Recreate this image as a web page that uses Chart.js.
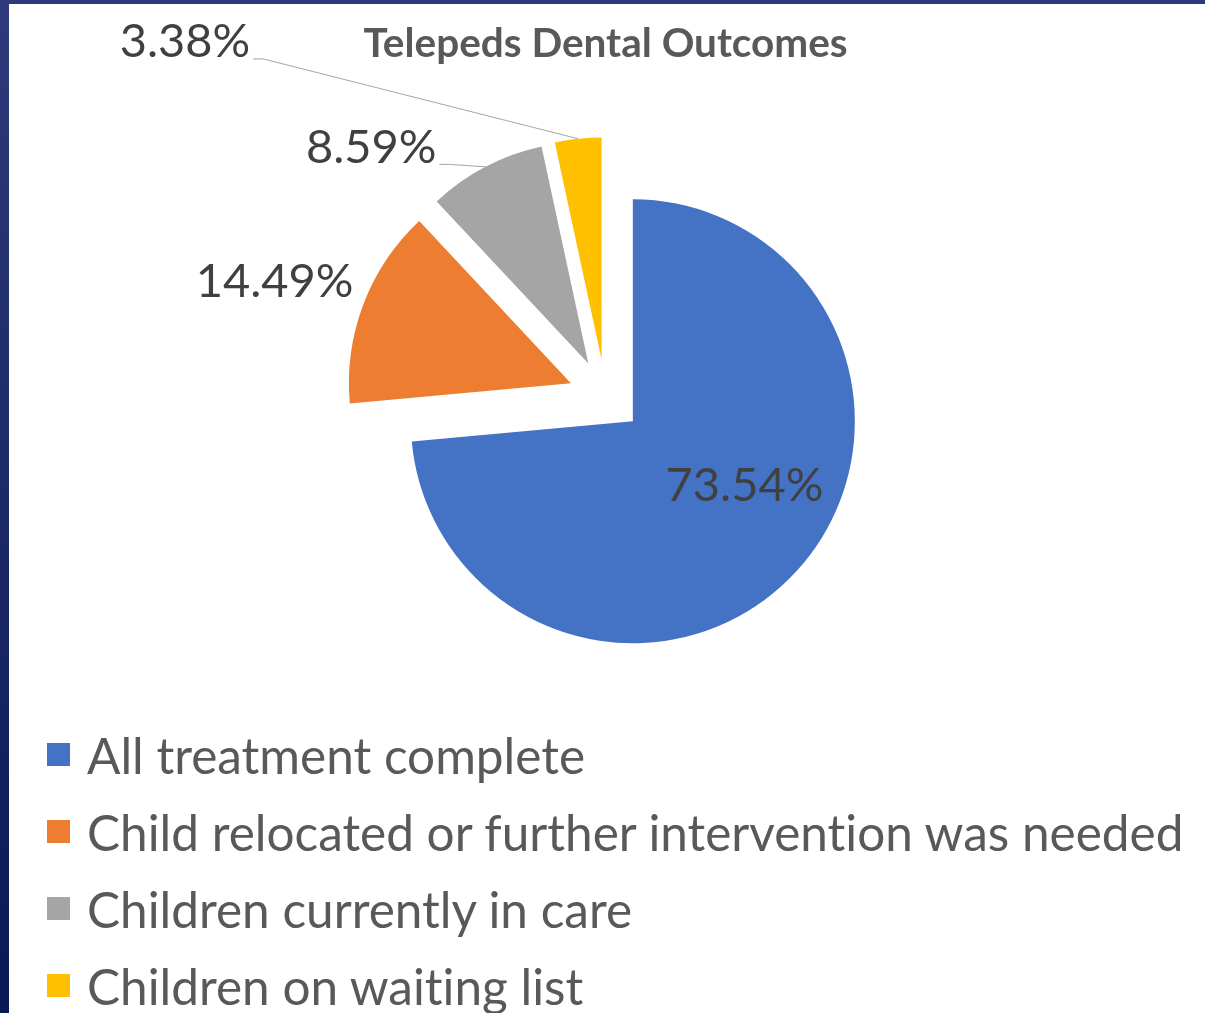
<!DOCTYPE html>
<html lang="en">
<head>
  <meta charset="UTF-8" />
  <meta name="viewport" content="width=device-width, initial-scale=1" />
  <title>Telepeds Dental Outcomes</title>

  <!-- Chart.js -->
  <script src="https://cdn.jsdelivr.net/npm/chart.js"></script>

  <style>
    html, body { margin: 0; padding: 0; background: #fff; }
    body { width: 1205px; height: 1013px; position: relative; overflow: hidden; font-family: Lato, "Open Sans", sans-serif; }
    #wrap { position: absolute; left: 0; top: 0; width: 1205px; height: 1013px; }
    .frame-top { position: absolute; left: 0; top: 0; width: 1205px; height: 4px; background: #2e3a7b; }
    .frame-left { position: absolute; left: 0; top: 0; width: 9px; height: 1013px; background: linear-gradient(#2e3a7b, #0a1953); }
    #legenda { position: absolute; left: 47px; top: 716px; margin: 0; padding: 0; list-style: none; }
    #legenda li { height: 77px; display: flex; align-items: center; font-size: 49.5px; color: #595959; white-space: nowrap; font-variant-ligatures: none; }
    #legenda li span { display: inline-block; width: 23px; height: 23px; margin-right: 17px; }
  </style>
</head>
<body>
  <div id="wrap"><canvas id="graficoPizza"></canvas></div>
  <ul id="legenda"></ul>
  <div class="frame-top"></div>
  <div class="frame-left"></div>

  <script>
    const categories = [
      'All treatment complete',
      'Child relocated or further intervention was needed',
      'Children currently in care',
      'Children on waiting list'
    ];
    const shares = [73.54, 14.49, 8.59, 3.38];
    const sliceColors = ['#4472C4', '#ED7D31', '#A5A5A5', '#FFC000'];
    const percentLabels = ['73.54%', '14.49%', '8.59%', '3.38%'];

    // how the slices are pulled out and where the labels sit (Excel "best fit" look)
    const explode = [37, 37, 37, 37];
    const labelRadius = [0.58, 1.41, 1.38, 2.36];
    const labelTurn = [-12.5, -2, -17.5, -46.6];
    const leader = [false, false, true, true];

    // every slice pulled out along its bisector, without growing the radius
    const explodePlugin = {
      id: 'explode',
      beforeDatasetDraw(chart, args) {
        const ctx = chart.ctx;
        args.meta.data.forEach((arc, i) => {
          const mid = (arc.startAngle + arc.endAngle) / 2;
          ctx.save();
          ctx.translate(Math.cos(mid) * explode[i], Math.sin(mid) * explode[i]);
          arc.draw(ctx);
          ctx.restore();
        });
        return false;
      }
    };

    const sliceLabels = {
      id: 'sliceLabels',
      afterDatasetsDraw(chart) {
        const ctx = chart.ctx;
        const arcs = chart.getDatasetMeta(0).data;
        ctx.save();
        ctx.font = '47px Lato';
        ctx.textAlign = 'center';
        ctx.textBaseline = 'middle';
        arcs.forEach((arc, i) => {
          const mid = (arc.startAngle + arc.endAngle) / 2;
          const cx = arc.x + Math.cos(mid) * explode[i];
          const cy = arc.y + Math.sin(mid) * explode[i];
          const a = mid + labelTurn[i] * Math.PI / 180;
          const r = arc.outerRadius * labelRadius[i];
          const lx = cx + Math.cos(a) * r;
          const ly = cy + Math.sin(a) * r;
          if (leader[i]) {
            const w = ctx.measureText(percentLabels[i]).width;
            const sx = lx + w / 2 + 3;
            const sy = ly + 17;
            ctx.beginPath();
            ctx.moveTo(sx, sy);
            ctx.lineTo(sx + 10, sy);
            ctx.lineTo(cx + Math.cos(mid) * arc.outerRadius, cy + Math.sin(mid) * arc.outerRadius);
            ctx.strokeStyle = '#a6a6a6';
            ctx.lineWidth = 1;
            ctx.stroke();
          }
          ctx.fillStyle = '#404040';
          ctx.fillText(percentLabels[i], lx, ly);
        });
        ctx.restore();
      }
    };

    new Chart(document.getElementById('graficoPizza'), {
      type: 'pie',
      data: {
        labels: categories,
        datasets: [{ data: shares, backgroundColor: sliceColors, borderWidth: 0, radius: 222 }]
      },
      options: {
        responsive: true,
        maintainAspectRatio: false,
        animation: false,
        layout: { padding: { left: 6, right: 0, top: 0, bottom: 289 } },
        plugins: {
          legend: { display: false },
          tooltip: { enabled: false },
          title: {
            display: true,
            text: 'Telepeds Dental Outcomes',
            color: '#595959',
            font: { family: 'Lato', size: 40.5, weight: 'bold', lineHeight: 1.2 },
            padding: { top: 20, bottom: 0 }
          }
        }
      },
      plugins: [explodePlugin, sliceLabels]
    });

    // legenda em HTML, uma linha por categoria
    const legendaEl = document.getElementById('legenda');
    categories.forEach((nome, i) => {
      const li = document.createElement('li');
      const box = document.createElement('span');
      box.style.background = sliceColors[i];
      li.appendChild(box);
      li.appendChild(document.createTextNode(nome));
      legendaEl.appendChild(li);
    });
  </script>
</body>
</html>
